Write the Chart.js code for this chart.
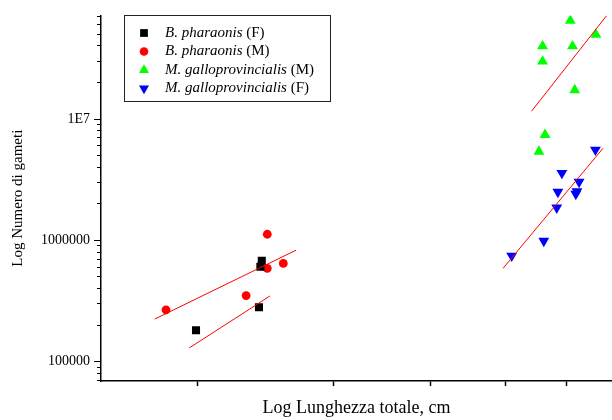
<!DOCTYPE html>
<html>
<head>
<meta charset="utf-8">
<script src="https://cdn.jsdelivr.net/npm/chart.js@4.4.0/dist/chart.umd.min.js"></script>
<style>
  body { margin: 0; background: #fff; }
  canvas { display: block; }
</style>
</head>
<body>
<canvas id="chart" width="612" height="420"></canvas>
<script>
// B. pharaonis (F)
const bphFemaleLen = [24.2, 24.1, 24.0, 19.9];
const bphFemaleGam = [679000, 607000, 282000, 182000];
// B. pharaonis (M)
const bphMaleLen = [24.6, 25.8, 24.6, 23.1, 18.2];
const bphMaleGam = [1124000, 646000, 588000, 351000, 268000];
// M. galloprovincialis (M)
const mgMaleLen = [60.6, 65.4, 55.8, 61.0, 55.8, 61.4, 56.2, 55.2];
const mgMaleGam = [64600000, 49600000, 39800000, 39800000, 29800000, 17300000, 7400000, 5400000];
// M. galloprovincialis (F)
const mgFemaleLen = [65.3, 59.1, 62.2, 61.8, 61.6, 58.4, 58.2, 56.0, 50.9];
const mgFemaleGam = [5580000, 3590000, 3030000, 2540000, 2420000, 2510000, 1860000, 991000, 747000];

// regression lines (end points)
const fitBphMaleLen = [17.6, 26.8];
const fitBphMaleGam = [225000, 831000];
const fitBphFemaleLen = [19.5, 24.8];
const fitBphFemaleGam = [130000, 349000];
const fitMgMaleLen = [54.0, 67.5];
const fitMgMaleGam = [11600000, 71000000];
const fitMgFemaleLen = [49.6, 66.8];
const fitMgFemaleGam = [588000, 5750000];

const xTicks = [20, 30, 40, 50, 60];
const yMajorTicks = [100000, 1000000, 10000000];
const yLabels = { 100000: '100000', 1000000: '1000000', 10000000: '1E7' };

const X_MIN = 15.0, X_MAX = 68.6;
const Y_MIN = 69500, Y_MAX = 71400000;

const pts = (xs, ys) => xs.map((x, i) => ({ x: x, y: ys[i] }));

const serif = '"Liberation Serif", "Times New Roman", serif';

const legendItems = [
  { name: 'B. pharaonis', sex: ' (F)', color: '#000000', style: 'rect', radius: 5.5, rot: 0 },
  { name: 'B. pharaonis', sex: ' (M)', color: '#ff0000', style: 'circle', radius: 4.3, rot: 0 },
  { name: 'M. galloprovincialis', sex: ' (M)', color: '#00ff00', style: 'triangle', radius: 5.8, rot: 0 },
  { name: 'M. galloprovincialis', sex: ' (F)', color: '#0000ff', style: 'triangle', radius: 5.8, rot: 180 },
];

const speciesLegend = {
  id: 'speciesLegend',
  afterDatasetsDraw(chart) {
    const ctx = chart.ctx;
    ctx.save();
    ctx.strokeStyle = '#222';
    ctx.lineWidth = 1;
    ctx.fillStyle = '#fff';
    ctx.fillRect(124.5, 15.5, 206, 86);
    ctx.strokeRect(124.5, 15.5, 206, 86);
    legendItems.forEach((item, i) => {
      const y = 33 + i * 18.5;
      ctx.fillStyle = item.color;
      ctx.strokeStyle = item.color;
      Chart.helpers.drawPoint(ctx, { pointStyle: item.style, radius: item.radius, rotation: item.rot, borderWidth: 0 }, 144, y);
      ctx.fillStyle = '#000';
      ctx.textBaseline = 'middle';
      ctx.font = 'italic 15px ' + serif;
      ctx.fillText(item.name, 165, y);
      const w = ctx.measureText(item.name).width;
      ctx.font = '15px ' + serif;
      ctx.fillText(item.sex, 165 + w, y);
    });
    ctx.restore();
  }
};

function scatterSet(label, data, color, style, radius, rot) {
  return {
    type: 'scatter',
    label: label,
    data: data,
    backgroundColor: color,
    borderColor: color,
    borderWidth: 0,
    pointStyle: style,
    pointRadius: radius,
    pointRotation: rot,
    pointHoverRadius: radius,
  };
}

function fitSet(data) {
  return {
    type: 'line',
    data: data,
    borderColor: '#ff0000',
    borderWidth: 1,
    pointRadius: 0,
    fill: false,
    tension: 0,
  };
}

new Chart(document.getElementById('chart'), {
  type: 'scatter',
  data: {
    datasets: [
      fitSet(pts(fitBphMaleLen, fitBphMaleGam)),
      fitSet(pts(fitBphFemaleLen, fitBphFemaleGam)),
      fitSet(pts(fitMgMaleLen, fitMgMaleGam)),
      fitSet(pts(fitMgFemaleLen, fitMgFemaleGam)),
      scatterSet('B. pharaonis (F)', pts(bphFemaleLen, bphFemaleGam), '#000000', 'rect', 5.7, 0),
      scatterSet('B. pharaonis (M)', pts(bphMaleLen, bphMaleGam), '#ff0000', 'circle', 4.4, 0),
      scatterSet('M. galloprovincialis (M)', pts(mgMaleLen, mgMaleGam), '#00ff00', 'triangle', 6.3, 0),
      scatterSet('M. galloprovincialis (F)', pts(mgFemaleLen, mgFemaleGam), '#0000ff', 'triangle', 6.3, 180),
    ]
  },
  options: {
    responsive: false,
    animation: false,
    layout: { autoPadding: false, padding: { top: 13, right: 0, left: 0, bottom: 0 } },
    plugins: {
      legend: { display: false },
      tooltip: { enabled: false },
    },
    scales: {
      x: {
        type: 'logarithmic',
        min: X_MIN,
        max: X_MAX,
        afterBuildTicks: (scale) => { scale.ticks = xTicks.map(v => ({ value: v })); },
        afterFit: (scale) => { scale.height = 39; },
        border: { display: true, color: '#000', width: 1.5 },
        grid: { drawOnChartArea: false, drawTicks: true, tickLength: 5, color: '#000', tickWidth: 1.5 },
        ticks: { callback: () => '', padding: 0 },
        title: {
          display: true,
          text: 'Log Lunghezza totale, cm',
          color: '#000',
          font: { family: serif, size: 18 },
          padding: { top: 0, bottom: 1 },
        },
      },
      y: {
        type: 'logarithmic',
        position: 'left',
        weight: 1,
        min: Y_MIN,
        max: Y_MAX,
        afterBuildTicks: (scale) => {
          const t = [];
          for (let e = 4; e <= 7; e++) {
            for (let m = 1; m <= 9; m++) {
              const v = m * Math.pow(10, e);
              if (v >= Y_MIN && v <= Y_MAX) t.push({ value: v });
            }
          }
          scale.ticks = t;
        },
        afterFit: (scale) => { scale.width = 101; },
        border: { display: true, color: '#000', width: 1.5 },
        grid: { drawOnChartArea: false, drawTicks: true, tickLength: 4, color: '#000', tickWidth: 1 },
        ticks: {
          autoSkip: false,
          padding: 7,
          color: '#000',
          font: { family: serif, size: 14 },
          callback: (v) => yLabels[v] || '',
        },
        title: {
          display: true,
          text: 'Log Numero di gameti',
          color: '#000',
          font: { family: serif, size: 15 },
          padding: { top: 9, bottom: 0 },
        },
      },
      yMajor: {
        type: 'logarithmic',
        position: 'left',
        weight: 0,
        min: Y_MIN,
        max: Y_MAX,
        afterBuildTicks: (scale) => { scale.ticks = yMajorTicks.map(v => ({ value: v })); },
        afterFit: (scale) => { scale.width = 0; },
        border: { display: false },
        grid: { drawOnChartArea: false, drawTicks: true, tickLength: 7, color: '#000', tickWidth: 1 },
        ticks: { display: false },
      },
    }
  },
  plugins: [speciesLegend],
});
</script>
</body>
</html>
